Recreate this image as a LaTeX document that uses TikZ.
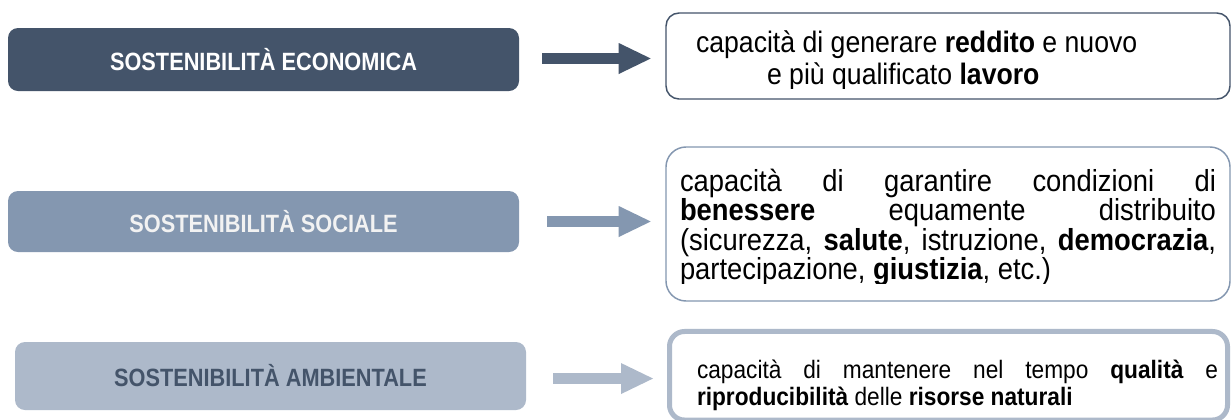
\documentclass[tikz,border=0pt]{standalone}
\usepackage{fontspec}
\setmainfont{Liberation Sans}
\newfontfamily\labelfont[FakeStretch=0.87]{Liberation Sans}
\newfontfamily\bodyfont[FakeStretch=0.9]{Liberation Sans}
\usetikzlibrary{arrows.meta}
\definecolor{cA}{HTML}{44546A}
\definecolor{cB}{HTML}{8497B0}
\definecolor{cC}{HTML}{ADB9CA}
\definecolor{cBtext}{HTML}{F2F2F2}
\begin{document}
\begin{tikzpicture}[x=0.75pt,y=-0.75pt,
  lbox/.style={rounded corners=7.5pt, inner sep=0pt, minimum width=383.25pt,
    font=\labelfont\bfseries\fontsize{18.75}{22}\selectfont},
  rbox/.style={rounded corners=#1, inner sep=0pt, minimum width=423pt},
  txt/.style={anchor=base west, inner sep=0pt, outer sep=0pt},
  flow/.style={draw=#1, line width=8.25pt,
    -{Triangle[length=24pt,width=23.25pt,line width=0pt]}},
]
\useasboundingbox (0,0) rectangle (1232,419);
\fill[white] (0,0) rectangle (1232,419);

% left boxes
\node[lbox, fill=cA, text=white, minimum height=47.25pt] (L1) at (263.5,59.5) {SOSTENIBILITÀ ECONOMICA};
\node[lbox, fill=cB, text=cBtext, minimum height=45.75pt] (L2) at (263.5,221.5) {SOSTENIBILITÀ SOCIALE};
\node[lbox, fill=cC, text=cA, minimum height=51pt] (L3) at (270.5,376) {SOSTENIBILITÀ AMBIENTALE};

% right boxes
\node[rbox=9.75pt, draw=cA, line width=1.1pt, minimum height=64.5pt] (R1) at (948,56) {};
\node[rbox=15pt, draw=cB, line width=1.1pt, minimum height=115.5pt] (R2) at (948,224) {};
\node[rbox=11.25pt, draw=cC, line width=3.75pt, minimum width=418.5pt, minimum height=66.4pt] (R3) at (948.5,375.75) {};

% arrows
\draw[flow=cA, shorten <=17.25pt, shorten >=10.9pt] ([yshift=0.75pt]L1.east) -- ([yshift=0.75pt]L1.east -| R1.west);
\draw[flow=cB, shorten <=21pt, shorten >=10.9pt] (L2.east) -- (L2.east -| R2.west);
\draw[flow=cC, shorten <=20.25pt, shorten >=10.5pt] ([yshift=-1.9pt]L3.east) -- ([yshift=-1.9pt]L3.east -| R3.west);

% texts
\begin{scope}
\clip (660,10) rectangle (1232,88);
\node[txt, font=\bodyfont\fontsize{22.2}{26}\selectfont] (t1a) at (696,52) {capacità di generare \textbf{reddito} e nuovo};
\node[txt, font=\bodyfont\fontsize{22.2}{26}\selectfont] (t1b) at (767,84) {e più qualificato \textbf{lavoro}};
\end{scope}

\begin{scope}
\clip (660,150) rectangle (1232,283);
\node[txt, font=\bodyfont\fontsize{22.8}{26}\selectfont] (t2a) at (680,191) {\makebox[402pt][s]{capacità di garantire condizioni di}};
\node[txt, font=\bodyfont\fontsize{22.8}{26}\selectfont] (t2b) at (680,220) {\makebox[402pt][s]{\textbf{benessere} equamente distribuito}};
\node[txt, font=\bodyfont\fontsize{22.8}{26}\selectfont] (t2c) at (680,250) {\makebox[402pt][s]{(sicurezza, \textbf{salute}, istruzione, \textbf{democrazia},}};
\node[txt, font=\bodyfont\fontsize{22.8}{26}\selectfont] (t2d) at (680,279) {partecipazione, \textbf{giustizia}, etc.)};
\end{scope}

\node[txt, font=\bodyfont\fontsize{18.9}{22}\selectfont] (t3a) at (697,378) {\makebox[390.75pt][s]{capacità di mantenere nel tempo \textbf{qualità} e}};
\node[txt, font=\bodyfont\fontsize{18.9}{22}\selectfont] (t3b) at (697,405) {\textbf{riproducibilità} delle \textbf{risorse naturali}};
\end{tikzpicture}
\end{document}
